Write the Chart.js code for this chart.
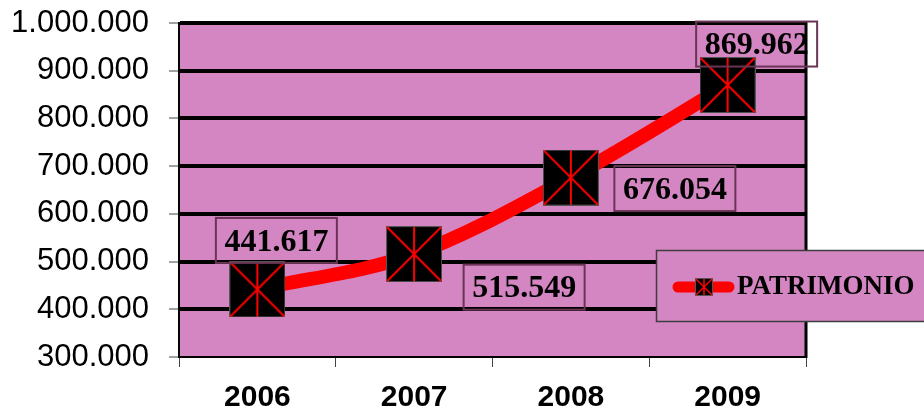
<!DOCTYPE html>
<html><head><meta charset="utf-8">
<script src="https://cdn.jsdelivr.net/npm/chart.js@4"></script>
<style>html,body{margin:0;padding:0;background:#fff;overflow:hidden}</style>
</head><body><canvas id="c" width="924" height="409"></canvas>
<script>
// ---- data ----
const years = ['2006', '2007', '2008', '2009'];
const patrimonio = [441617, 515549, 676054, 869962];
const seriesName = 'PATRIMONIO';
const yMin = 300000, yMax = 1000000, yStep = 100000;

// ---- styling ----
const PLOT_BG = '#D486C3';
const LABEL_BORDER = '#6A3455';
const SERIF = '"Liberation Serif", "Times New Roman", serif';
const SANS = '"Liberation Sans", Arial, sans-serif';
// label offsets (relative to each point), purely presentational
const labelOffsets = [[19, -49], [110, 33], [104, 11], [29, -41]];

function fmt(v) { return String(v).replace(/\B(?=(\d{3})+(?!\d))/g, '.'); }

function makeMarker(size, lw) {
  const c = document.createElement('canvas');
  c.width = size; c.height = size;
  const g = c.getContext('2d');
  g.fillStyle = '#000'; g.fillRect(0, 0, size, size);
  g.strokeStyle = '#555'; g.lineWidth = 1; g.strokeRect(0.5, 0.5, size - 1, size - 1);
  g.strokeStyle = '#ff0000'; g.lineWidth = lw;
  g.beginPath();
  g.moveTo(1, 1); g.lineTo(size - 1, size - 1);
  g.moveTo(size - 1, 1); g.lineTo(1, size - 1);
  g.moveTo(size / 2, 1); g.lineTo(size / 2, size - 1);
  g.stroke();
  return c;
}
const bigMarker = makeMarker(56, 2);
const smallMarker = makeMarker(18, 1.5);

const plotPlugin = {
  id: 'plotDeco',
  beforeDraw(chart) {
    const { ctx, chartArea: a } = chart;
    ctx.save();
    ctx.fillStyle = PLOT_BG;
    ctx.fillRect(a.left, a.top, a.right - a.left, a.bottom - a.top);
    ctx.restore();
  },
  beforeDatasetsDraw(chart) {
    const { ctx, chartArea: a } = chart;
    ctx.save();
    ctx.strokeStyle = '#000'; ctx.lineWidth = 3;
    ctx.beginPath(); ctx.moveTo(a.right, a.top - 2); ctx.lineTo(a.right, a.bottom + 1); ctx.stroke();
    ctx.restore();
  },
  afterDatasetsDraw(chart) {
    const { ctx } = chart;
    const meta = chart.getDatasetMeta(0);
    const vals = chart.data.datasets[0].data;
    ctx.save();
    ctx.font = 'bold 32px ' + SERIF;
    ctx.textAlign = 'center';
    ctx.textBaseline = 'middle';
    meta.data.forEach((pt, i) => {
      const cx = pt.x + labelOffsets[i][0];
      const cy = pt.y + labelOffsets[i][1];
      const w = 121, h = 45;
      ctx.strokeStyle = LABEL_BORDER; ctx.lineWidth = 2;
      ctx.strokeRect(cx - w / 2, cy - h / 2, w, h);
      ctx.fillStyle = '#000';
      ctx.fillText(fmt(vals[i]), cx, cy + 2);
    });
    ctx.restore();
  },
  afterDraw(chart) {
    const { ctx } = chart;
    ctx.save();
    // legend box
    ctx.fillStyle = PLOT_BG;
    ctx.fillRect(656, 250, 280, 71);
    ctx.strokeStyle = '#3d3d3d'; ctx.lineWidth = 1.5;
    ctx.strokeRect(656.5, 250.5, 280, 71);
    // legend line
    ctx.strokeStyle = '#ff0000'; ctx.lineWidth = 11; ctx.lineCap = 'round';
    ctx.beginPath(); ctx.moveTo(678, 287); ctx.lineTo(729, 287); ctx.stroke();
    ctx.drawImage(smallMarker, 695, 278);
    ctx.fillStyle = '#000';
    ctx.font = 'bold 27px ' + SERIF;
    ctx.textAlign = 'left'; ctx.textBaseline = 'middle';
    ctx.fillText(seriesName, 737, 287);
    ctx.restore();
  }
};

new Chart(document.getElementById('c'), {
  type: 'line',
  data: {
    labels: years,
    datasets: [{
      label: seriesName,
      data: patrimonio,
      borderColor: '#ff0000',
      borderWidth: 14,
      tension: 0.35,
      cubicInterpolationMode: 'monotone',
      pointStyle: bigMarker,
      pointRadius: 3,
      clip: false
    }]
  },
  options: {
    responsive: false,
    animation: false,
    events: [],
    layout: { padding: { top: 23, right: 118, left: 0, bottom: 0 } },
    plugins: { legend: { display: false }, tooltip: { enabled: false } },
    scales: {
      x: {
        offset: true,
        grid: { offset: true, drawOnChartArea: false, tickLength: 10, tickColor: '#444', tickWidth: 1 },
        border: { display: true, color: '#000', width: 2 },
        ticks: { color: '#000', font: { family: SANS, size: 30, weight: 'bold' }, padding: 13 },
        afterFit(s) { s.height = 52; }
      },
      y: {
        min: yMin, max: yMax,
        grid: {
          color: '#000',
          lineWidth: (c) => (c.tick && c.tick.value === yMin ? 0 : 4),
          tickLength: 10, tickColor: '#444', tickWidth: 1
        },
        border: { display: true, color: '#000', width: 2 },
        ticks: {
          stepSize: yStep, color: '#000', padding: 20,
          font: { family: SANS, size: 31 },
          callback: (v) => fmt(v)
        },
        afterFit(s) { s.width = 179; s.paddingTop = 0; s.paddingBottom = 0; }
      }
    }
  },
  plugins: [plotPlugin]
});
</script>
</body></html>
